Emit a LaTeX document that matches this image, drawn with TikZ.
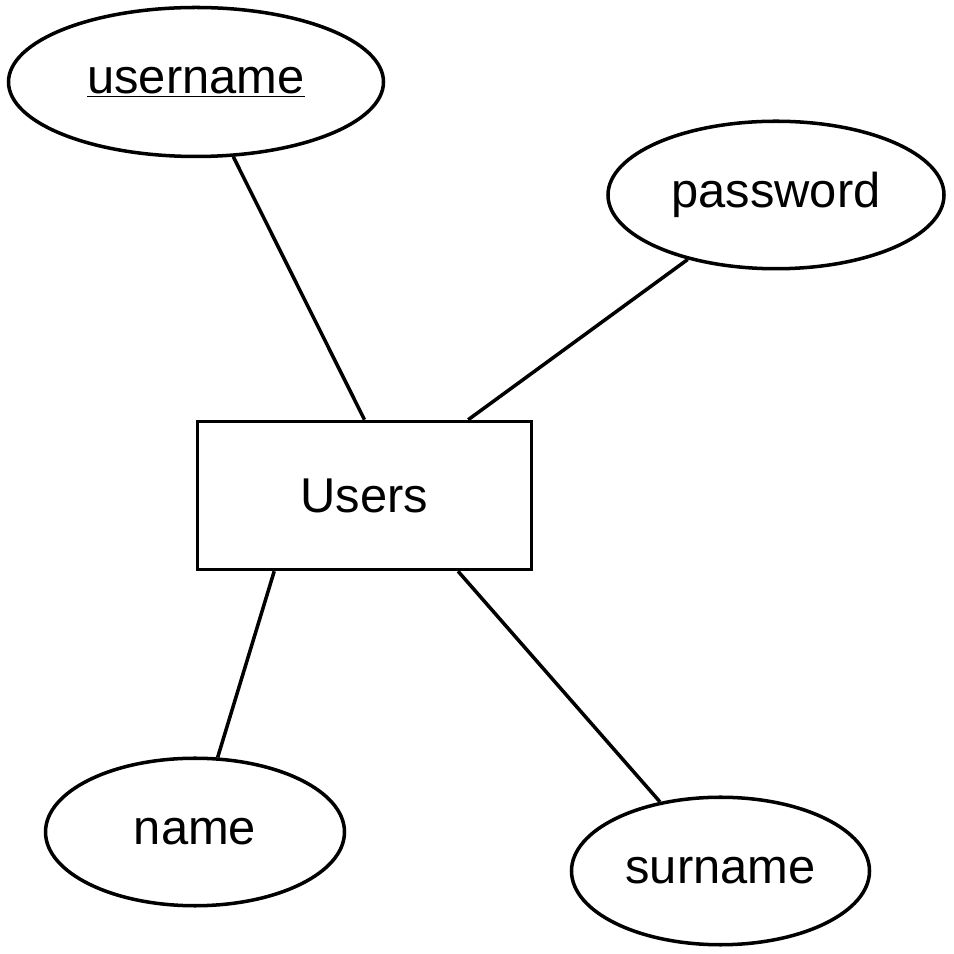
\documentclass[tikz,border=0pt]{standalone}
\usepackage{fontspec}
\setmainfont{Liberation Sans}
\usepackage{tikz}
\usetikzlibrary{shapes}
\tikzset{
  attr/.style={ellipse,draw,line width=2pt,inner sep=0pt,minimum height=2.95cm,font=\fontsize{27.8}{33}\selectfont},
  ent/.style={rectangle,draw,line width=2pt,inner sep=0pt,minimum width=6.68cm,minimum height=2.96cm,font=\fontsize{27.8}{33}\selectfont},
  lnk/.style={line width=2pt},
}
\begin{document}
\begin{tikzpicture}
  \useasboundingbox (0,0) rectangle (19.08,19.08);
  \node[ent] (users) at (7.29,9.17) {Users};
  \node[attr,minimum width=7.5cm,minimum height=2.98cm] (username) at (3.92,17.44) {\underline{username}};
  \node[attr,minimum width=6.72cm] (password) at (15.52,15.18) {password};
  \node[attr,minimum width=5.98cm] (name) at (3.9,2.44) {name};
  \node[attr,minimum width=5.96cm] (surname) at (14.41,1.66) {surname};
  \draw[lnk] (username) -- (users.north);
  \draw[lnk] (password) -- (users);
  \draw[lnk] (name) -- (users.220);
  \draw[lnk] (surname) -- (users.-39);
\end{tikzpicture}
\end{document}
